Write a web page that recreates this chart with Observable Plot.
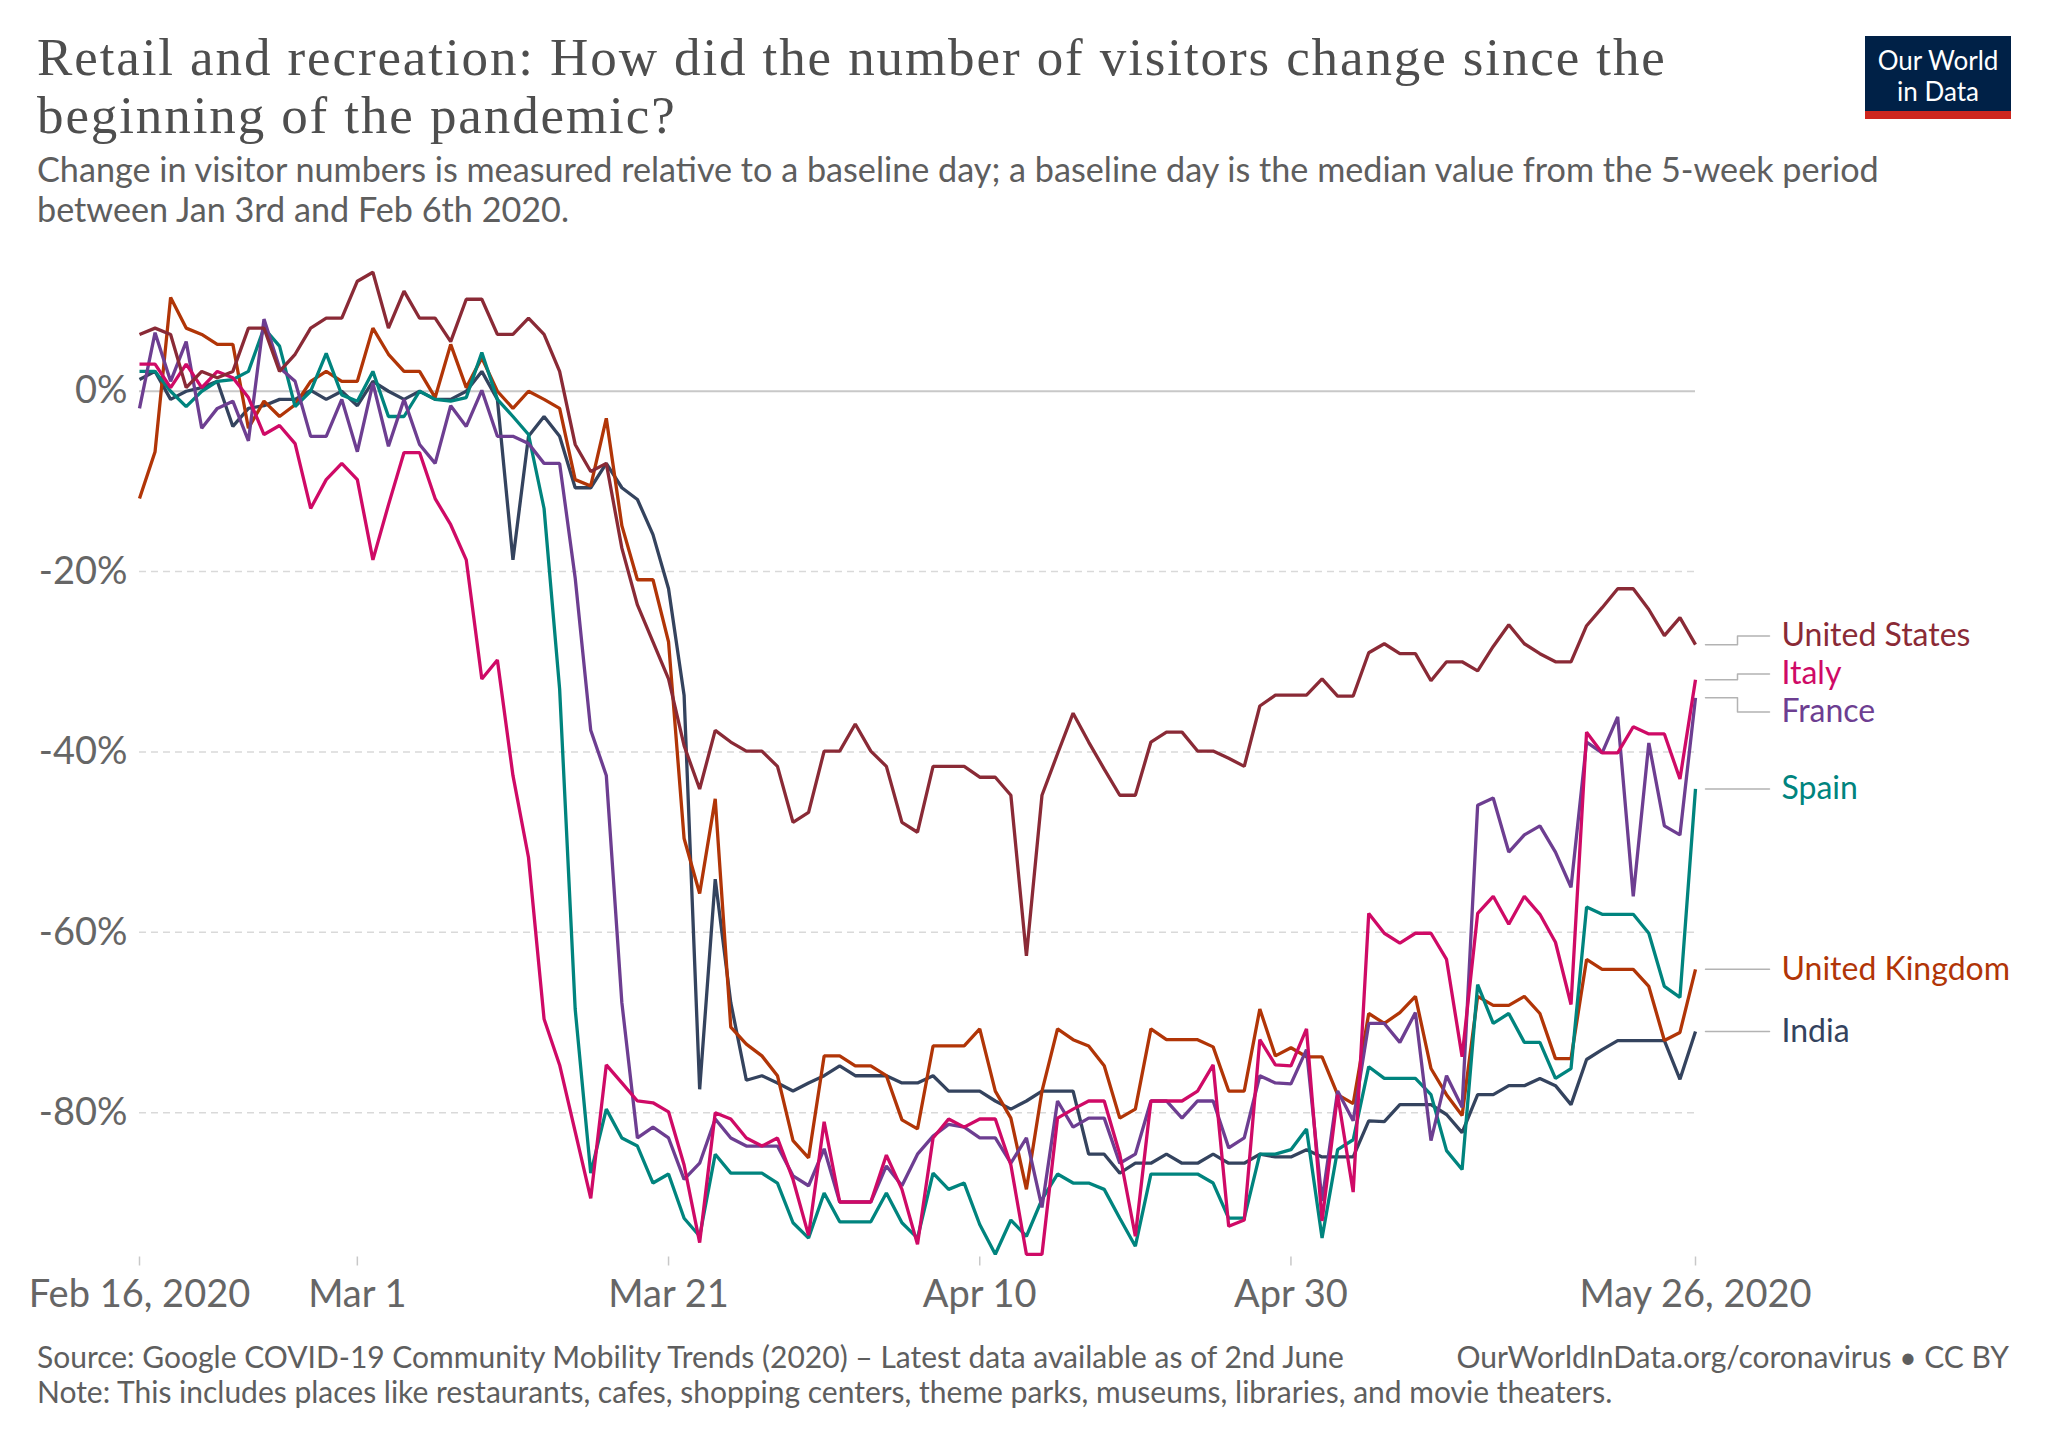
<!DOCTYPE html>
<html>
<head>
<meta charset="utf-8">
<script src="https://cdn.jsdelivr.net/npm/d3@7"></script>
<script src="https://cdn.jsdelivr.net/npm/@observablehq/plot@0.6"></script>
<style>
  html, body { margin: 0; padding: 0; background: #fff; }
  body { width: 2048px; height: 1445px; position: relative; overflow: hidden; font-family: Lato, sans-serif; }
  .title { position: absolute; left: 37px; height: 52px; overflow: visible; font-family: "Liberation Serif", serif; font-size: 53px; line-height: 52px; letter-spacing: 1.9px; color: #4e4e4e; white-space: nowrap; }
  #subtitle { position: absolute; left: 37px; top: 149px; font-size: 34.2px; line-height: 40px; color: #5e5e5e; white-space: nowrap; }
  #logo { position: absolute; left: 1865px; top: 36px; width: 146px; background: #002147; border-bottom: 8px solid #ce261e; color: #fff; text-align: center; font-size: 26px; line-height: 30.5px; padding-top: 9px; box-sizing: content-box; height: 66px; }
  #logo div { height: 30.5px; }
  #chart { position: absolute; left: 0; top: 240px; }
  #source { position: absolute; left: 37px; top: 1339px; font-size: 30px; line-height: 35px; color: #5e5e5e; white-space: nowrap; }
  #credit { position: absolute; right: 39px; top: 1339px; font-size: 30px; line-height: 35px; color: #5e5e5e; white-space: nowrap; }
  g[aria-label^="x-axis"] line, g[aria-label^="x-axis"] path { stroke: #c8c8c8; stroke-width: 1.5px; }
</style>
</head>
<body>
<div class="title" style="top:30.5px">Retail and recreation: How did the number of visitors change since the</div>
<div class="title" style="top:88.5px">beginning of the pandemic?</div>
<div id="subtitle">Change in visitor numbers is measured relative to a baseline day; a baseline day is the median value from the 5-week period<br>between Jan 3rd and Feb 6th 2020.</div>
<div id="logo"><div>Our World</div><div>in Data</div></div>
<div id="chart"></div>
<div id="source">Source: Google COVID-19 Community Mobility Trends (2020) – Latest data available as of 2nd June<br>Note: This includes places like restaurants, cafes, shopping centers, theme parks, museums, libraries, and movie theaters.</div>
<div id="credit">OurWorldInData.org/coronavirus • CC BY</div>
<script>
// ---- data (daily values, Feb 16 2020 .. May 26 2020) ----
const startDate = "2020-02-16";
const countries = ["United States", "Italy", "France", "Spain", "United Kingdom", "India"];
const colors = ["#8a2a36", "#cf0a66", "#6d3e91", "#00847e", "#b13507", "#34435e"];

const unitedStates = [6.3, 7.0, 6.3, 0.4, 2.2, 1.5, 2.2, 7.0, 7.0, 2.2,
  4.1, 7.0, 8.1, 8.1, 12.2, 13.2, 7.0, 11.1, 8.1, 8.1,
  5.5, 10.2, 10.2, 6.3, 6.3, 8.1, 6.3, 2.2, -5.9, -8.9,
  -8.0, -17.4, -23.7, -27.8, -31.9, -39.3, -44.1, -37.6, -38.9, -39.9,
  -39.9, -41.6, -47.8, -46.7, -39.9, -39.9, -36.9, -39.9, -41.6, -47.8,
  -48.9, -41.6, -41.6, -41.6, -42.8, -42.8, -44.8, -62.6, -44.8, -40.2,
  -35.7, -38.9, -41.9, -44.8, -44.8, -38.9, -37.8, -37.8, -39.9, -39.9,
  -40.7, -41.6, -34.9, -33.7, -33.7, -33.7, -31.9, -33.8, -33.8, -29.0,
  -28.0, -29.1, -29.1, -32.1, -30.0, -30.0, -31.0, -28.3, -25.9, -28.0,
  -29.1, -30.0, -30.0, -26.0, -24.0, -21.9, -21.9, -24.2, -27.1, -25.1,
  -28.1];

const italy = [3.0, 3.0, 0.4, 3.0, 0.4, 2.2, 1.5, -0.7, -4.8, -3.8,
  -5.8, -13.0, -9.8, -8.0, -9.8, -18.7, -12.6, -6.8, -6.8, -11.9,
  -14.8, -18.7, -31.9, -29.8, -42.6, -51.7, -69.6, -74.7, -82.1, -89.5,
  -74.7, -76.7, -78.7, -78.9, -79.9, -85.8, -94.4, -80.0, -80.7, -82.8,
  -83.7, -82.8, -87.4, -93.6, -81.0, -89.9, -89.9, -89.9, -84.7, -88.5,
  -94.6, -82.8, -80.7, -81.6, -80.7, -80.7, -85.8, -95.7, -95.7, -80.6,
  -79.6, -78.7, -78.7, -84.6, -93.7, -78.7, -78.7, -78.7, -77.6, -74.7,
  -92.6, -91.9, -71.9, -74.7, -74.8, -70.7, -92.0, -78.0, -88.8, -57.9,
  -60.1, -61.2, -60.1, -60.1, -63.0, -73.8, -57.9, -56.0, -59.1, -56.0,
  -58.0, -61.1, -68.0, -37.8, -40.1, -40.1, -37.2, -38.0, -38.0, -43.0,
  -32.0];

const france = [-1.9, 6.5, 1.1, 5.5, -4.1, -1.9, -1.1, -5.5, 8.0, 2.6,
  1.1, -5.0, -5.0, -0.9, -6.7, 0.9, -6.1, -0.9, -5.9, -8.0,
  -1.6, -3.9, 0.1, -5.0, -5.0, -5.8, -8.0, -8.0, -20.7, -37.6,
  -42.6, -67.8, -82.8, -81.6, -82.8, -87.4, -85.6, -80.7, -82.8, -83.7,
  -83.7, -83.7, -87.0, -88.1, -84.0, -89.9, -89.9, -89.9, -85.9, -88.1,
  -84.6, -82.6, -81.3, -81.6, -82.8, -82.8, -85.6, -82.8, -90.5, -78.7,
  -81.6, -80.6, -80.6, -85.6, -84.6, -78.7, -78.7, -80.6, -78.7, -78.7,
  -83.9, -82.8, -75.9, -76.7, -76.8, -73.0, -89.8, -77.6, -80.9, -70.1,
  -70.1, -72.2, -68.9, -83.1, -75.9, -79.4, -45.9, -45.1, -51.1, -49.2,
  -48.2, -51.1, -55.0, -38.9, -40.1, -36.1, -56.0, -39.0, -48.2, -49.2,
  -34.0];

const spain = [2.2, 2.2, 0, -1.7, 0, 1.1, 1.3, 2.2, 7.0, 5.0,
  -1.7, 0, 4.2, -0.4, -1.1, 2.2, -2.8, -2.8, 0, -0.9,
  -1.1, -0.7, 4.3, -0.9, -2.8, -4.8, -13.0, -33.0, -68.5, -86.7,
  -79.6, -82.8, -83.7, -87.8, -86.8, -91.7, -93.7, -84.6, -86.7, -86.7,
  -86.7, -87.8, -92.2, -93.9, -88.9, -92.1, -92.1, -92.1, -88.9, -92.2,
  -93.9, -86.7, -88.5, -87.8, -92.4, -95.7, -91.9, -93.7, -89.6, -86.8,
  -87.8, -87.8, -88.5, -91.7, -94.8, -86.8, -86.8, -86.8, -86.8, -87.8,
  -91.7, -91.7, -84.6, -84.6, -84.1, -81.8, -93.9, -84.1, -83.0, -74.9,
  -76.2, -76.2, -76.2, -78.0, -84.2, -86.3, -65.8, -70.1, -69.0, -72.2,
  -72.2, -76.2, -75.1, -57.2, -58.0, -58.0, -58.0, -60.1, -66.0, -67.2,
  -44.1];

const unitedKingdom = [-11.9, -6.7, 10.4, 7.0, 6.3, 5.2, 5.2, -4.1, -1.1, -2.8,
  -1.5, 1.1, 2.2, 1.1, 1.1, 7.0, 4.1, 2.2, 2.2, -0.7,
  5.2, 0.4, 3.7, 0, -1.9, 0, -0.9, -1.9, -9.8, -10.5,
  -3.0, -14.9, -20.9, -20.9, -27.8, -49.6, -55.7, -45.2, -70.5, -72.4,
  -73.7, -75.9, -83.1, -85.0, -73.7, -73.7, -74.8, -74.8, -75.9, -80.8,
  -81.8, -72.6, -72.6, -72.6, -70.7, -77.6, -80.6, -88.5, -77.6, -70.7,
  -71.9, -72.6, -74.8, -80.6, -79.6, -70.7, -71.9, -71.9, -71.9, -72.7,
  -77.6, -77.6, -68.5, -73.7, -72.8, -73.8, -73.8, -78.0, -79.0, -69.0,
  -70.1, -68.9, -67.1, -75.1, -78.0, -80.3, -67.1, -68.1, -68.1, -67.1,
  -69.0, -74.0, -74.0, -63.0, -64.1, -64.1, -64.1, -66.0, -72.0, -71.1,
  -64.1];

const india = [1.3, 2.2, -0.9, 0, 0.4, 1.1, -3.9, -1.9, -1.6, -0.9,
  -0.9, 0.1, -0.9, 0, -1.6, 1.1, 0, -0.9, 0, -0.9,
  -0.9, 0, 2.2, -0.9, -18.7, -5.0, -2.8, -5.0, -10.7, -10.7,
  -8.0, -10.7, -12.0, -15.9, -21.9, -33.7, -77.4, -54.1, -67.8, -76.4,
  -75.9, -76.7, -77.6, -76.7, -75.9, -74.8, -75.9, -75.9, -75.9, -76.7,
  -76.7, -75.9, -77.6, -77.6, -77.6, -78.7, -79.6, -78.7, -77.6, -77.6,
  -77.6, -84.6, -84.6, -86.7, -85.6, -85.6, -84.6, -85.6, -85.6, -84.6,
  -85.6, -85.6, -84.6, -84.9, -84.9, -84.1, -84.9, -84.9, -84.9, -80.9,
  -81.0, -79.1, -79.1, -79.1, -80.2, -82.2, -78.0, -78.0, -77.0, -77.0,
  -76.2, -77.0, -79.1, -74.1, -73.0, -72.0, -72.0, -72.0, -72.0, -76.3,
  -71.0];

const xTickDates = ["2020-02-16", "2020-03-01", "2020-03-21", "2020-04-10", "2020-04-30", "2020-05-26"];
const xTickLabels = ["Feb 16, 2020", "Mar 1", "Mar 21", "Apr 10", "Apr 30", "May 26, 2020"];
const yTicks = [0, -20, -40, -60, -80];
const yGrid = [-20, -40, -60, -80];

// ---- build table ----
const DAY = 864e5;
const t0 = new Date(startDate + "T00:00:00Z").getTime();
const seriesByCountry = {
  "United States": unitedStates, "Italy": italy, "France": france,
  "Spain": spain, "United Kingdom": unitedKingdom, "India": india
};
const drawOrder = ["India", "United Kingdom", "Spain", "France", "Italy", "United States"];
const rows = [];
for (const c of drawOrder) {
  seriesByCountry[c].forEach((v, i) => rows.push({country: c, date: new Date(t0 + i * DAY), value: v}));
}

// ---- layout ----
const W = 2048, H = 1080;
const mL = 139, mR = 353, mT = 29, mB = 63.5;
const yDomain = [-96, 13.5];
const nDays = unitedStates.length - 1;
const pxPerDay = (W - mL - mR) / nDays;
const pxPerPct = (H - mT - mB) / (yDomain[1] - yDomain[0]);
const lastDate = t0 + nDays * DAY;

// end labels with simple dodge (spacing in px -> value units)
const spacing = 38 / pxPerPct;
let groups = countries.map(c => {
  const v = seriesByCountry[c][nDays];
  return {items: [{country: c, value: v}], center: v};
}).sort((a, b) => b.center - a.center);
function layoutGroup(g) {
  const n = g.items.length;
  g.center = d3.mean(g.items, d => d.value);
  g.top = g.center + (n - 1) * spacing / 2;
  g.bottom = g.center - (n - 1) * spacing / 2;
}
groups.forEach(layoutGroup);
let merged = true;
while (merged) {
  merged = false;
  for (let i = 0; i < groups.length - 1; i++) {
    if (groups[i].bottom - groups[i + 1].top < spacing) {
      groups[i].items = groups[i].items.concat(groups[i + 1].items);
      groups.splice(i + 1, 1);
      layoutGroup(groups[i]);
      merged = true;
      break;
    }
  }
}
const labels = [];
for (const g of groups) {
  g.items.sort((a, b) => b.value - a.value).forEach((d, k) => {
    labels.push({country: d.country, value: d.value, label: g.top - k * spacing});
  });
}
const pxToMs = px => px / pxPerDay * DAY;
const connectors = [];
for (const d of labels) {
  connectors.push({country: d.country, date: new Date(lastDate + pxToMs(10)), y: d.value});
  connectors.push({country: d.country, date: new Date(lastDate + pxToMs(42)), y: d.value});
  connectors.push({country: d.country, date: new Date(lastDate + pxToMs(42)), y: d.label});
  connectors.push({country: d.country, date: new Date(lastDate + pxToMs(74)), y: d.label});
}
labels.forEach(d => d.date = new Date(lastDate));

const tickDates = xTickDates.map(s => new Date(s + "T00:00:00Z"));
const tickLabelFor = d => {
  const i = tickDates.findIndex(t => Math.abs(t - d) < DAY / 2);
  return i >= 0 ? xTickLabels[i] : "";
};

const plot = Plot.plot({
  width: W,
  height: H,
  marginLeft: mL,
  marginRight: mR,
  marginTop: mT,
  marginBottom: mB,
  style: {fontFamily: "Lato, sans-serif", fontSize: "38px", color: "#666", background: "transparent", overflow: "visible"},
  x: {type: "utc", domain: [new Date(t0), new Date(lastDate)], ticks: tickDates, tickFormat: tickLabelFor, tickSize: 9, tickPadding: 14, label: null},
  y: {domain: yDomain, ticks: yTicks, tickFormat: d => `${d}%`, tickSize: 0, tickPadding: 12, label: null},
  color: {domain: countries, range: colors},
  marks: [
    Plot.ruleY(yGrid, {stroke: "#d9d9d9", strokeWidth: 1.5, strokeDasharray: "7,5"}),
    Plot.ruleY([0], {stroke: "#c8c8c8", strokeWidth: 2}),
    Plot.line(rows, {x: "date", y: "value", z: "country", stroke: "country", strokeWidth: 3.3, strokeLinejoin: "miter", strokeLinecap: "butt"}),
    Plot.line(connectors, {x: "date", y: "y", z: "country", stroke: "#b3b3b3", strokeWidth: 1.5, curve: "linear"}),
    Plot.text(labels, {x: "date", y: "label", text: "country", fill: "country", dx: 86, textAnchor: "start", fontSize: 32, fontFamily: "Lato, sans-serif"})
  ]
});
document.getElementById("chart").appendChild(plot);
</script>
</body>
</html>
